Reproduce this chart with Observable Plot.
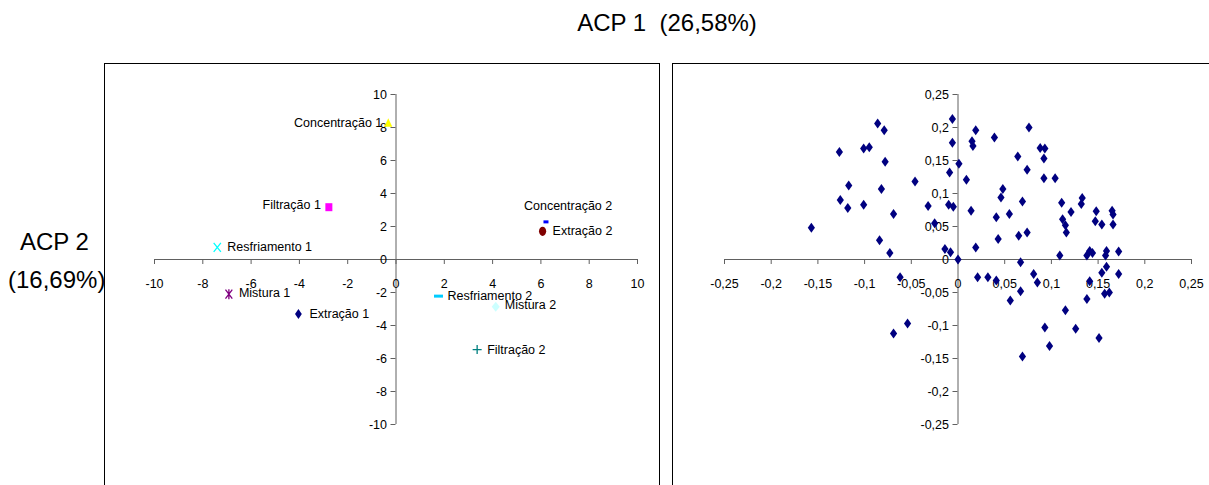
<!DOCTYPE html>
<html>
<head>
<meta charset="utf-8">
<script src="https://cdn.jsdelivr.net/npm/d3@7"></script>
<script src="https://cdn.jsdelivr.net/npm/@observablehq/plot@0.6"></script>
<style>
  body { margin: 0; background: #fff; font-family: "Liberation Sans", Arial, sans-serif; }
  #page { position: relative; width: 1209px; height: 485px; overflow: hidden; }
  .title { position: absolute; white-space: pre; color: #000; font-size: 24px; line-height: 1; }
  .box { position: absolute; border: 1px solid #000; box-sizing: border-box; }
  .panel { position: absolute; }
</style>
</head>
<body>
<div id="page">
  <div class="title" style="left:667px;top:11px;transform:translateX(-50%)">ACP 1  (26,58%)</div>
  <div class="title" style="left:20px;top:230px">ACP 2</div>
  <div class="title" style="left:8px;top:268px">(16,69%)</div>
  <div class="box" style="left:104px;top:63px;width:556px;height:440px"></div>
  <div class="box" style="left:672px;top:63px;width:538px;height:440px"></div>
  <div class="panel" id="scores" style="left:104px;top:63px"></div>
  <div class="panel" id="loadings" style="left:672px;top:63px"></div>
</div>
<script>
// ---- Scores: process stages on the first two principal components ----
const stages = ["Extração 1", "Filtração 1", "Concentração 1", "Resfriamento 1", "Mistura 1",
                "Extração 2", "Filtração 2", "Concentração 2", "Resfriamento 2", "Mistura 2"];
const stageAcp1 = [-4.04, -2.78, -0.32, -7.40, -6.92, 6.07, 3.36, 6.21, 1.76, 4.13];
const stageAcp2 = [-3.31, 3.17, 8.30, 0.74, -2.10, 1.71, -5.46, 2.28, -2.22, -2.87];
const scoreTicksX = [-10, -8, -6, -4, -2, 0, 2, 4, 6, 8, 10];
const scoreTicksY = [-10, -8, -6, -4, -2, 0, 2, 4, 6, 8, 10];

// ---- Loadings: variables on the first two principal components ----
const loadAcp1 = [-0.157, -0.127, -0.086, -0.079, -0.101, -0.095, -0.078, -0.117, -0.126, -0.118,
  -0.101, -0.082, -0.069, -0.046, -0.032, -0.025, -0.084, -0.073, -0.062, -0.054,
  -0.069, -0.006, -0.006, -0.009, 0.001, -0.010, -0.005, -0.014, -0.008, 0.000,
  0.019, 0.015, 0.016, 0.039, 0.076, 0.088, 0.093, 0.092, 0.064, 0.074,
  0.092, 0.104, 0.009, 0.048, 0.046, 0.069, 0.014, 0.041, 0.055, 0.111,
  0.133, 0.132, 0.121, 0.112, 0.115, 0.116, 0.148, 0.147, 0.154, 0.165,
  0.166, 0.166, 0.043, 0.065, 0.074, 0.019, 0.109, 0.138, 0.141, 0.144,
  0.159, 0.158, 0.172, 0.067, 0.021, 0.032, 0.041, 0.081, 0.085, 0.067,
  0.056, 0.159, 0.154, 0.172, 0.141, 0.157, 0.162, 0.138, 0.115, 0.093,
  0.126, 0.151, 0.098, 0.069];
const loadAcp2 = [0.048, 0.163, 0.206, 0.196, 0.168, 0.170, 0.148, 0.112, 0.090, 0.078,
  0.083, 0.107, 0.069, 0.118, 0.081, 0.055, 0.029, 0.010, -0.027, -0.097,
  -0.112, 0.213, 0.177, 0.132, 0.145, 0.083, 0.080, 0.016, 0.011, 0.000,
  0.196, 0.179, 0.172, 0.185, 0.200, 0.169, 0.168, 0.153, 0.156, 0.136,
  0.123, 0.123, 0.121, 0.107, 0.094, 0.088, 0.074, 0.064, 0.069, 0.086,
  0.093, 0.084, 0.072, 0.061, 0.052, 0.041, 0.073, 0.058, 0.053, 0.074,
  0.068, 0.053, 0.031, 0.036, 0.041, 0.018, 0.006, 0.006, 0.013, 0.010,
  0.013, 0.006, 0.012, -0.004, -0.027, -0.027, -0.032, -0.022, -0.035, -0.048,
  -0.062, -0.011, -0.020, -0.022, -0.033, -0.052, -0.050, -0.060, -0.077, -0.103,
  -0.105, -0.119, -0.131, -0.147];
const loadTicks = [-0.25, -0.2, -0.15, -0.1, -0.05, 0, 0.05, 0.1, 0.15, 0.2, 0.25];

// ---- Marker shapes (classic spreadsheet markers) ----
const shape = (draw) => ({draw});
const diamond = (w, h) => shape((c) => { c.moveTo(0, -h); c.lineTo(w, 0); c.lineTo(0, h); c.lineTo(-w, 0); c.closePath(); });
const box = (w, h) => shape((c) => { c.rect(-w / 2, -h / 2, w, h); });
const triangle = (w, h) => shape((c) => { c.moveTo(0, -h / 2); c.lineTo(w / 2, h / 2); c.lineTo(-w / 2, h / 2); c.closePath(); });
const cross = (w, h) => shape((c) => { c.moveTo(-w, -h); c.lineTo(w, h); c.moveTo(w, -h); c.lineTo(-w, h); });
const star = (w, h) => shape((c) => { c.moveTo(-w, -h); c.lineTo(w, h); c.moveTo(w, -h); c.lineTo(-w, h); c.moveTo(0, -h - 0.5); c.lineTo(0, h + 0.5); });
const plus = (r) => shape((c) => { c.moveTo(-r, 0); c.lineTo(r, 0); c.moveTo(0, -r); c.lineTo(0, r); });
const ellipse = (rx, ry) => shape((c) => {
  const k = 0.5523;
  c.moveTo(rx, 0);
  c.bezierCurveTo(rx, ry * k, rx * k, ry, 0, ry);
  c.bezierCurveTo(-rx * k, ry, -rx, ry * k, -rx, 0);
  c.bezierCurveTo(-rx, -ry * k, -rx * k, -ry, 0, -ry);
  c.bezierCurveTo(rx * k, -ry, rx, -ry * k, rx, 0);
  c.closePath();
});

// marker and label styling for each stage, in the same order as `stages`
const stageStyle = [
  {symbol: diamond(3.4, 5), fill: "#000080", anchor: "start", dx: 11, dy: 0},
  {symbol: box(7, 8), fill: "#ff00ff", anchor: "end", dx: -8, dy: -2},
  {symbol: triangle(8, 8.5), fill: "#ffff00", anchor: "end", dx: -6, dy: 0},
  {symbol: cross(3.6, 4.5), stroke: "#00ffff", anchor: "start", dx: 10, dy: 0},
  {symbol: star(3.4, 4.5), stroke: "#800080", anchor: "start", dx: 10, dy: -1},
  {symbol: ellipse(3.6, 4.6), fill: "#800000", anchor: "start", dx: 10, dy: 0},
  {symbol: plus(4.5), stroke: "#008080", anchor: "start", dx: 10, dy: 0},
  {symbol: box(5, 3), fill: "#0000ff", anchor: "start", dx: -22, dy: -16},
  {symbol: box(9, 3), fill: "#00ccff", anchor: "start", dx: 9, dy: 0},
  {symbol: diamond(4, 5), fill: "#ccffff", anchor: "start", dx: 9, dy: -2}
];

const axisColor = "#606060";
const commaFormat = (v) => String(v).replace(".", ",");

// axes crossing at the origin, with outside ticks as in spreadsheet charts
function crossedAxes(ticksX, ticksY, fmt) {
  return [
    Plot.ruleY([0], {y: (d) => d, x1: () => ticksX[0], x2: () => ticksX[ticksX.length - 1], stroke: axisColor}),
    Plot.ruleX([0], {x: (d) => d, y1: () => ticksY[0], y2: () => ticksY[ticksY.length - 1], stroke: axisColor}),
    Plot.ruleX(ticksX, {x: (d) => d, y1: () => 0, y2: () => 0, insetBottom: -5, stroke: axisColor}),
    Plot.ruleY(ticksY, {y: (d) => d, x1: () => 0, x2: () => 0, insetLeft: -5, stroke: axisColor}),
    Plot.text(ticksX, {x: (d) => d, y: () => 0, text: fmt, dy: 24, textAnchor: "middle", lineAnchor: "middle", fill: "#000"}),
    Plot.text(ticksY, {x: () => 0, y: (d) => d, text: fmt, dx: -9, textAnchor: "end", lineAnchor: "middle", fill: "#000"})
  ];
}

const plotStyle = {
  fontFamily: '"Liberation Sans", Arial, sans-serif',
  fontSize: "12.5px",
  background: "transparent",
  overflow: "visible",
  color: "#000"
};

// ---- Left panel: stage scores ----
const stageRows = stages.map((name, i) => ({name, acp1: stageAcp1[i], acp2: stageAcp2[i], i}));
const stageMarks = stageRows.flatMap((row) => {
  const s = stageStyle[row.i];
  return [
    Plot.dot([row], {
      x: "acp1", y: "acp2", symbol: s.symbol,
      fill: s.fill || "none", stroke: s.stroke || "none", strokeWidth: s.stroke ? 1.3 : 0
    }),
    Plot.text([row], {
      x: "acp1", y: "acp2", text: "name", textAnchor: s.anchor, lineAnchor: "middle",
      dx: s.dx, dy: s.dy, fill: "#000"
    })
  ];
});

const scores = Plot.plot({
  width: 556, height: 422,
  marginLeft: 50, marginRight: 23, marginTop: 31, marginBottom: 61,
  x: {domain: [-10, 10], axis: null},
  y: {domain: [-10, 10], axis: null},
  style: plotStyle,
  marks: [...crossedAxes(scoreTicksX, scoreTicksY, (d) => String(d)), ...stageMarks]
});
document.getElementById("scores").appendChild(scores);

// ---- Right panel: variable loadings ----
const loadRows = loadAcp1.map((v, i) => ({acp1: v, acp2: loadAcp2[i]}));
const loadings = Plot.plot({
  width: 537, height: 422,
  marginLeft: 52, marginRight: 18, marginTop: 31, marginBottom: 61,
  x: {domain: [-0.25, 0.25], axis: null},
  y: {domain: [-0.25, 0.25], axis: null},
  style: plotStyle,
  marks: [
    ...crossedAxes(loadTicks, loadTicks, commaFormat),
    Plot.dot(loadRows, {x: "acp1", y: "acp2", symbol: diamond(3.6, 5), fill: "#000080", stroke: "none"})
  ]
});
document.getElementById("loadings").appendChild(loadings);
</script>
</body>
</html>
